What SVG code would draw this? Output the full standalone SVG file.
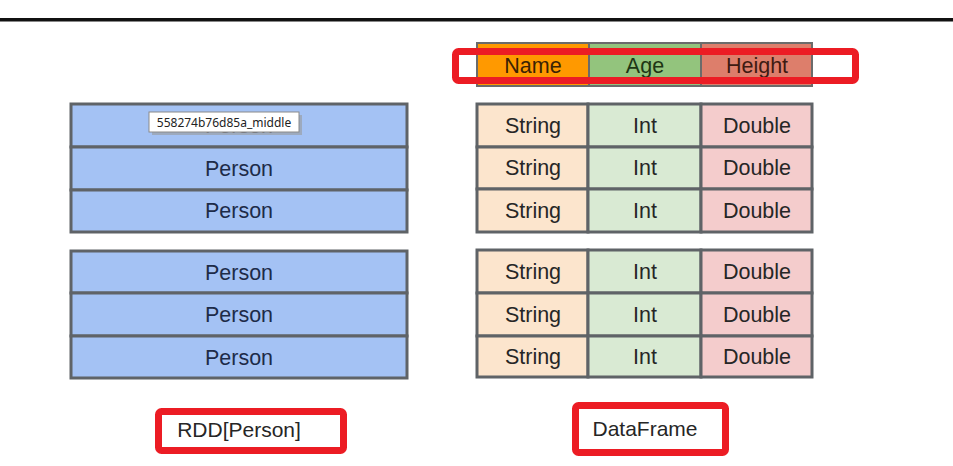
<svg xmlns="http://www.w3.org/2000/svg" width="953" height="466" viewBox="0 0 953 466">
<style>
text{font-family:"Liberation Sans",Arial,sans-serif;text-anchor:middle}
.t{font-size:21.5px}
.p{fill:#1d2b48}
.d{fill:#262626}
.cell{stroke:#5f6367;stroke-width:3}
.person{fill:#a4c2f4}
.str{fill:#fce5cd}
.int{fill:#d9ead3}
.dbl{fill:#f4cccc}
.red{fill:none;stroke:#ec1c24;stroke-width:7}
</style>
<rect width="953" height="466" fill="#fff"/>
<rect x="0" y="18" width="953" height="3.5" fill="#111"/>

<g id="header">
<rect x="477" y="43" width="112" height="43" fill="#ff9900" class="cell" style="stroke-width:2;stroke:#6b6b6b"/>
<rect x="589" y="43" width="112" height="43" fill="#93c47d" class="cell" style="stroke-width:2;stroke:#6b6b6b"/>
<rect x="701" y="43" width="111" height="43" fill="#dd7e6b" class="cell" style="stroke-width:2;stroke:#6b6b6b"/>
<text x="533" y="73" class="t" fill="#3a2204">Name</text>
<text x="645" y="73" class="t" fill="#1e3614">Age</text>
<text x="757" y="73" class="t" fill="#3e1a12">Height</text>
</g>
<g id="header-highlight"><rect x="455.5" y="51.5" width="400" height="29" rx="3" class="red"/></g>

<g id="rdd-part1">
<rect x="71" y="104" width="336" height="43" class="cell person"/>
<rect x="71" y="147" width="336" height="43" class="cell person"/>
<rect x="71" y="190" width="336" height="42" class="cell person"/>
<text x="239" y="133" class="t p">Person</text>
<text x="239" y="176" class="t p">Person</text>
<text x="239" y="218" class="t p">Person</text>
</g>

<g id="tooltip">
<rect x="152" y="115" width="150" height="20" fill="#9a9a9a" opacity="0.6"/>
<rect x="149" y="112" width="150" height="20" fill="#fff" stroke="#8a8a8a" stroke-width="1"/>
<text x="224" y="127" style="font-family:'Noto Sans','DejaVu Sans',sans-serif;font-size:12px" fill="#222">558274b76d85a_middle</text>
</g>

<g id="rdd-part2">
<rect x="71" y="251" width="336" height="42" class="cell person"/>
<rect x="71" y="293" width="336" height="43" class="cell person"/>
<rect x="71" y="336" width="336" height="42" class="cell person"/>
<text x="239" y="280" class="t p">Person</text>
<text x="239" y="322" class="t p">Person</text>
<text x="239" y="365" class="t p">Person</text>
</g>

<g id="df-part1">
<rect x="477" y="104" width="111" height="43" class="cell str"/>
<rect x="588" y="104" width="113" height="43" class="cell int"/>
<rect x="701" y="104" width="111" height="43" class="cell dbl"/>
<rect x="477" y="147" width="111" height="42" class="cell str"/>
<rect x="588" y="147" width="113" height="42" class="cell int"/>
<rect x="701" y="147" width="111" height="42" class="cell dbl"/>
<rect x="477" y="189" width="111" height="43" class="cell str"/>
<rect x="588" y="189" width="113" height="43" class="cell int"/>
<rect x="701" y="189" width="111" height="43" class="cell dbl"/>
<text x="533" y="133" class="t d">String</text><text x="645" y="133" class="t d">Int</text><text x="757" y="133" class="t d">Double</text>
<text x="533" y="175" class="t d">String</text><text x="645" y="175" class="t d">Int</text><text x="757" y="175" class="t d">Double</text>
<text x="533" y="218" class="t d">String</text><text x="645" y="218" class="t d">Int</text><text x="757" y="218" class="t d">Double</text>
</g>

<g id="df-part2">
<rect x="477" y="250" width="111" height="43" class="cell str"/>
<rect x="588" y="250" width="113" height="43" class="cell int"/>
<rect x="701" y="250" width="111" height="43" class="cell dbl"/>
<rect x="477" y="293" width="111" height="43" class="cell str"/>
<rect x="588" y="293" width="113" height="43" class="cell int"/>
<rect x="701" y="293" width="111" height="43" class="cell dbl"/>
<rect x="477" y="336" width="111" height="41" class="cell str"/>
<rect x="588" y="336" width="113" height="41" class="cell int"/>
<rect x="701" y="336" width="111" height="41" class="cell dbl"/>
<text x="533" y="279" class="t d">String</text><text x="645" y="279" class="t d">Int</text><text x="757" y="279" class="t d">Double</text>
<text x="533" y="322" class="t d">String</text><text x="645" y="322" class="t d">Int</text><text x="757" y="322" class="t d">Double</text>
<text x="533" y="364" class="t d">String</text><text x="645" y="364" class="t d">Int</text><text x="757" y="364" class="t d">Double</text>
</g>

<g id="label-rdd">
<rect x="158.5" y="411.5" width="185" height="39" rx="3" class="red"/>
<text x="239" y="437" style="font-size:21px" class="d">RDD[Person]</text>
</g>
<g id="label-df">
<rect x="575.5" y="405.5" width="150" height="47" rx="3" class="red"/>
<text x="645" y="436" style="font-size:21px" class="d">DataFrame</text>
</g>
<g id="connectors"></g>
</svg>
